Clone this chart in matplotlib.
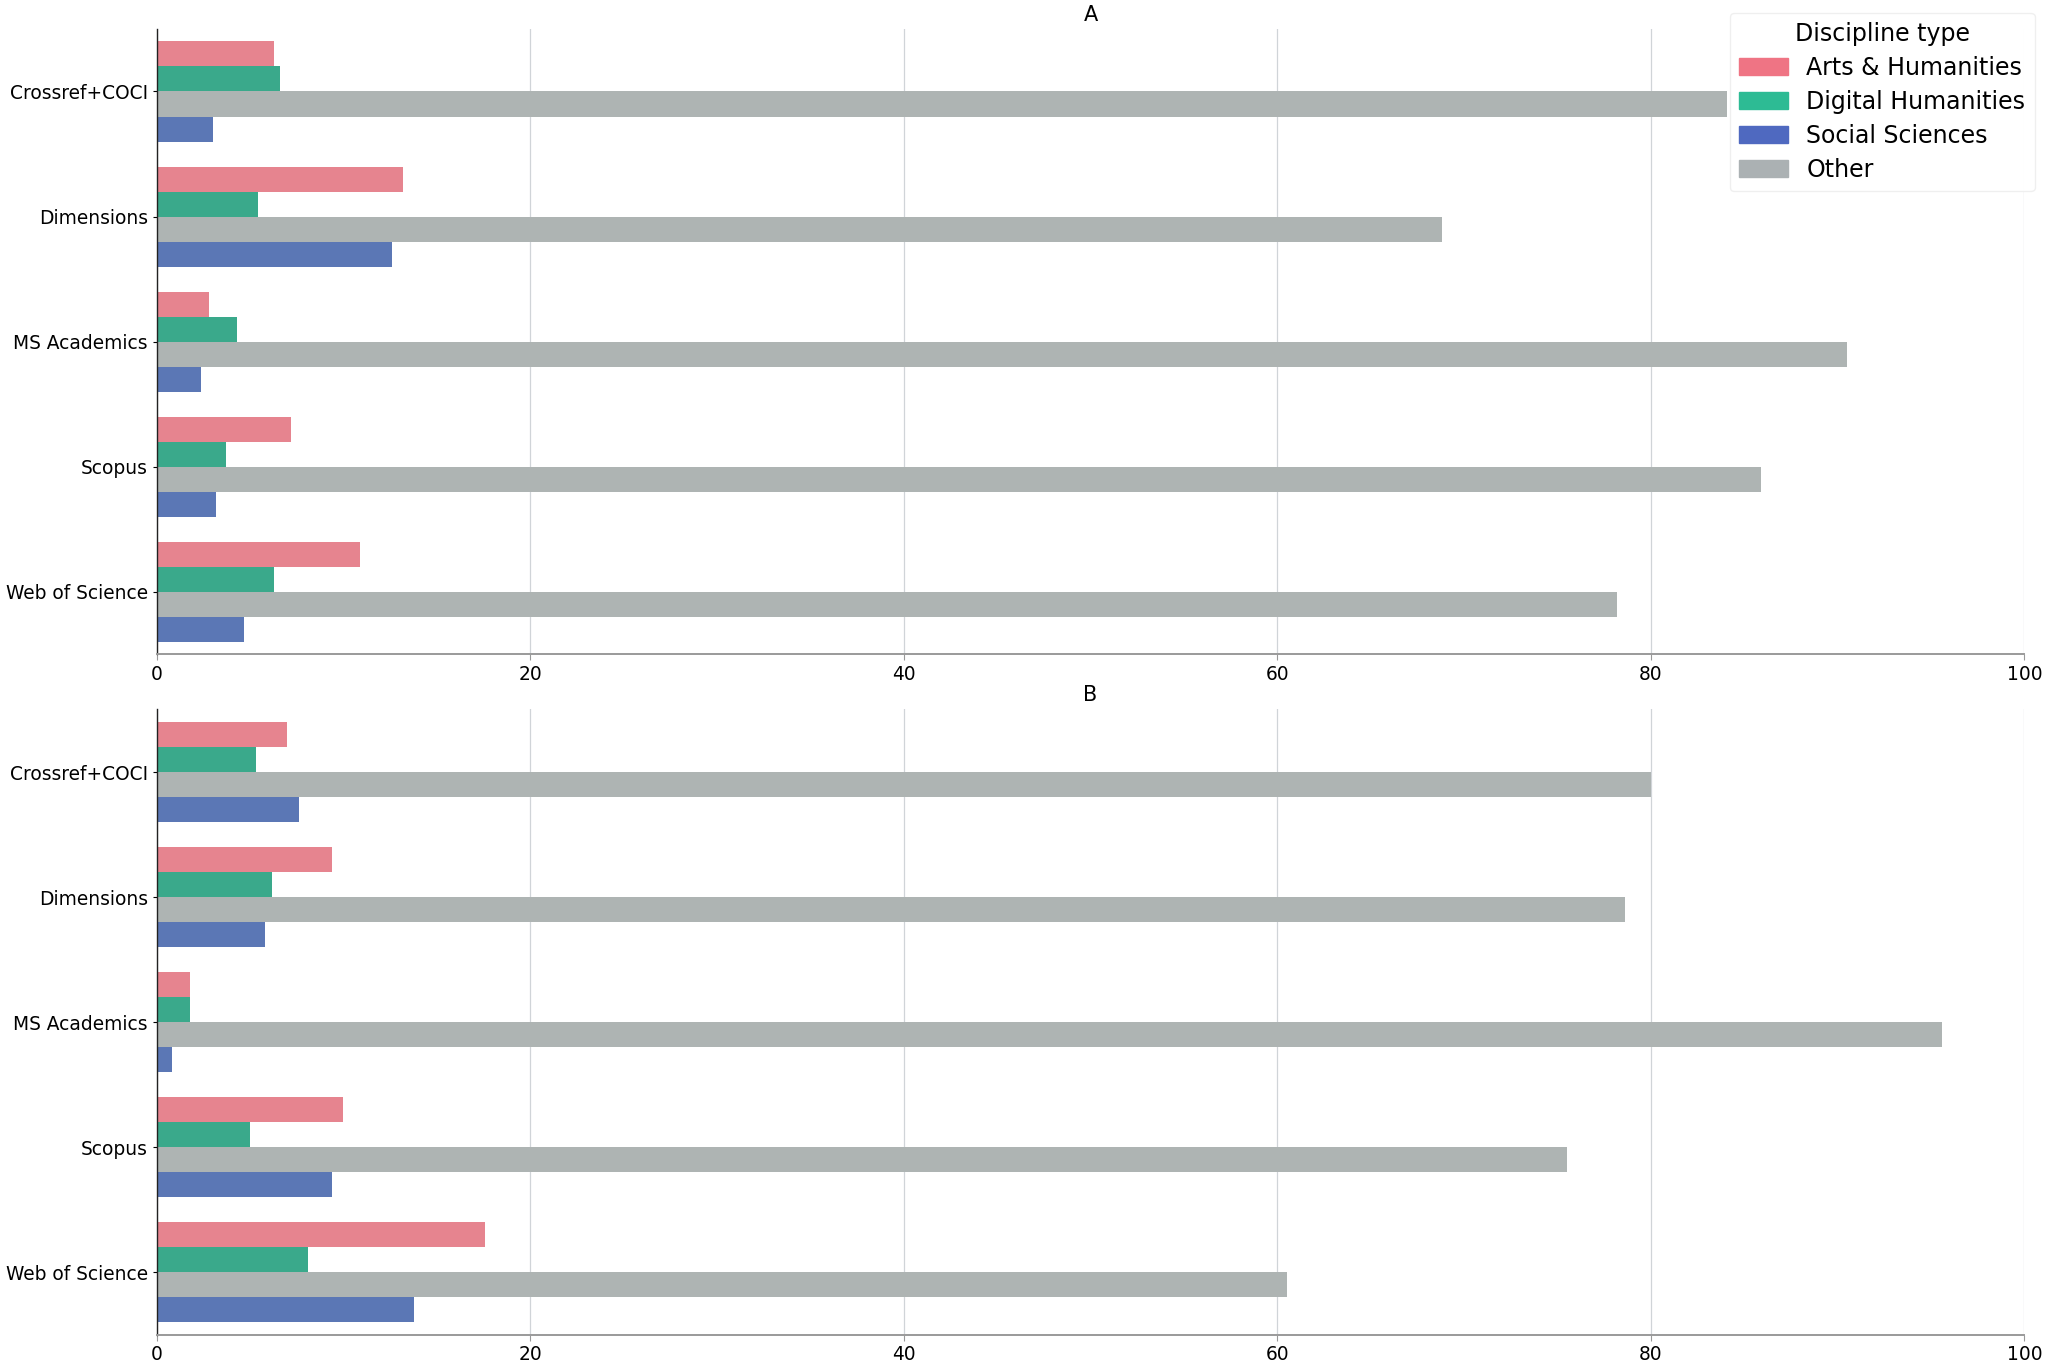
import numpy as np
import matplotlib
matplotlib.use("Agg")
import matplotlib.pyplot as plt
from matplotlib.patches import Patch

databases = ["Crossref+COCI", "Dimensions", "MS Academics", "Scopus", "Web of Science"]

# panel A, share (%) per discipline type
a_arts = [6.3, 13.2, 2.8, 7.2, 10.9]
a_digital = [6.6, 5.4, 4.3, 3.7, 6.3]
a_other = [84.1, 68.8, 90.5, 85.9, 78.2]
a_social = [3.0, 12.6, 2.4, 3.2, 4.7]

# panel B
b_arts = [7.0, 9.4, 1.8, 10.0, 17.6]
b_digital = [5.3, 6.2, 1.8, 5.0, 8.1]
b_other = [80.0, 78.6, 95.6, 75.5, 60.5]
b_social = [7.6, 5.8, 0.8, 9.4, 13.8]

bar_colors = {"arts": "#e6848f", "digital": "#3aa98b", "other": "#aeb4b3", "social": "#5b77b5"}
legend_colors = {"arts": "#ef7484", "digital": "#2dbb94", "social": "#4f69c0", "other": "#abb1b3"}

fig, axes = plt.subplots(2, 1, figsize=(20.48, 13.65), dpi=100)
fig.subplots_adjust(left=0.0765, right=0.9885, top=0.9788, bottom=0.022, hspace=0.088)

width = 0.2
y = np.arange(len(databases))

panels = [
    ("A", a_arts, a_digital, a_other, a_social),
    ("B", b_arts, b_digital, b_other, b_social),
]

for ax, (title, arts, digital, other, social) in zip(axes, panels):
    ax.barh(y - 1.5 * width, arts, height=width, color=bar_colors["arts"], zorder=2)
    ax.barh(y - 0.5 * width, digital, height=width, color=bar_colors["digital"], zorder=2)
    ax.barh(y + 0.5 * width, other, height=width, color=bar_colors["other"], zorder=2)
    ax.barh(y + 1.5 * width, social, height=width, color=bar_colors["social"], zorder=2)

    ax.set_yticks(y)
    ax.set_yticklabels(databases)
    ax.set_ylim(len(databases) - 0.5, -0.5)
    ax.set_xlim(0, 100)
    ax.set_xticks([0, 20, 40, 60, 80, 100])
    ax.tick_params(axis="both", labelsize=13.4)
    ax.tick_params(axis="x", length=4, color="#999999")
    ax.tick_params(axis="y", length=3)
    ax.set_title(title, fontsize=15)

    ax.grid(axis="x", color="#d0d4d8", linewidth=0.9, zorder=0)
    ax.set_axisbelow(True)
    ax.spines["top"].set_visible(False)
    ax.spines["right"].set_visible(False)
    ax.spines["bottom"].set_color("#9a9a9a")
    ax.spines["bottom"].set_linewidth(1.4)
    ax.spines["left"].set_color("#222222")
    ax.spines["left"].set_linewidth(1.0)

handles = [
    Patch(color=legend_colors["arts"], label="Arts & Humanities"),
    Patch(color=legend_colors["digital"], label="Digital Humanities"),
    Patch(color=legend_colors["social"], label="Social Sciences"),
    Patch(color=legend_colors["other"], label="Other"),
]
leg = axes[0].legend(handles=handles, title="Discipline type", loc="upper right",
                     bbox_to_anchor=(1.0056, 1.026), borderaxespad=0,
                     fontsize=17, title_fontsize=17, handlelength=2.05,
                     handleheight=0.72, labelspacing=0.42, framealpha=0.9)
leg.get_frame().set_edgecolor("#eeeeee")

plt.savefig("out.png", dpi=100)
